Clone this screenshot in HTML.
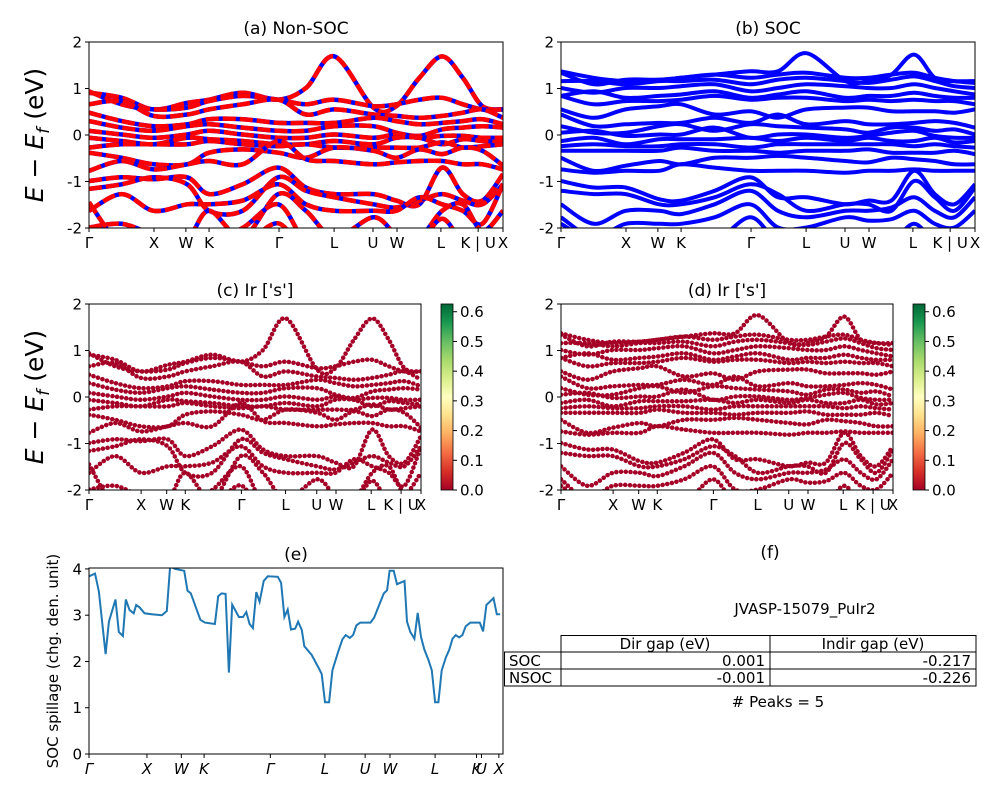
<!DOCTYPE html>
<html><head><meta charset="utf-8"><title>Band structure and SOC spillage</title>
<style>
html,body{margin:0;padding:0;background:#fff;}
svg{display:block;font-family:"DejaVu Sans","Liberation Sans",sans-serif;}
</style></head>
<body>
<svg id="fig" xmlns="http://www.w3.org/2000/svg" width="1000" height="800" viewBox="0 0 1000 800">
<defs>
<linearGradient id="rdylgn" x1="0" y1="1" x2="0" y2="0">
<stop offset="0" stop-color="#a50026"/><stop offset="0.1" stop-color="#d73027"/><stop offset="0.2" stop-color="#f46d43"/><stop offset="0.3" stop-color="#fdae61"/><stop offset="0.4" stop-color="#fee08b"/><stop offset="0.5" stop-color="#ffffbf"/><stop offset="0.6" stop-color="#d9ef8b"/><stop offset="0.7" stop-color="#a6d96a"/><stop offset="0.8" stop-color="#66bd63"/><stop offset="0.9" stop-color="#1a9850"/><stop offset="1" stop-color="#006837"/>
</linearGradient>
</defs>
<g id="root"></g>
<!-- table panel f -->
<g font-size="15" fill="#000">
<text x="770" y="558" text-anchor="middle" font-size="17">(f)</text>
<text x="805" y="614" text-anchor="middle">JVASP-15079_PuIr2</text>
<g fill="none" stroke="#000" stroke-width="1">
<rect x="561" y="635.5" width="415" height="50.5"/>
<rect x="504.5" y="652" width="56.5" height="34"/>
<line x1="770" y1="635.5" x2="770" y2="686"/>
<line x1="504.5" y1="652" x2="976" y2="652"/>
<line x1="504.5" y1="669" x2="976" y2="669"/>
</g>
<text x="665" y="649" text-anchor="middle">Dir gap (eV)</text>
<text x="873" y="649" text-anchor="middle">Indir gap (eV)</text>
<text x="509" y="666">SOC</text>
<text x="509" y="683">NSOC</text>
<text x="765" y="666" text-anchor="end">0.001</text>
<text x="971" y="666" text-anchor="end">-0.217</text>
<text x="765" y="683" text-anchor="end">-0.001</text>
<text x="971" y="683" text-anchor="end">-0.226</text>
<text x="778" y="707" text-anchor="middle"># Peaks = 5</text>
</g>
</svg>
<script>
// ---- data ----
const kFrac = [0,0.079,0.156,0.237,0.29,0.371,0.457,0.524,0.593,0.687,0.742,0.798,0.853,0.903,0.95,1.0];
const kLabels = ["Γ","X","W","K","Γ","L","U","W","L","K | U","X"];
const kLabelFrac = [0,0.157,0.234,0.29,0.459,0.592,0.686,0.744,0.85,0.94,1.0];
const specLabels = ["Γ","X","W","K","Γ","L","U","W","L","K","U","X"];
const specLabelFrac = [0,0.14,0.223,0.278,0.438,0.57,0.667,0.727,0.836,0.936,0.948,0.99];
const nsocBands = [
[.91,.80,.55,.69,.76,.91,.76,1.01,1.69,.59,.62,1.23,1.69,1.23,.62,.55],
[.94,.66,.55,.59,.73,.84,.76,.66,.76,.62,.66,.76,.80,.66,.55,.55],
[.66,.73,.41,.44,.55,.66,.76,.44,.55,.44,.41,.37,.41,.48,.55,.37],
[.48,.30,.19,.23,.34,.34,.26,.26,.26,.37,.30,.23,.26,.30,.34,.23],
[.30,.16,.09,.19,.23,.16,.09,.09,.19,.19,.05,-.02,.12,.16,.19,.16],
[.09,.01,-.06,.01,.09,.01,-.06,-.06,.01,-.06,.01,-.06,-.02,-.02,-.06,-.06],
[-.06,-.13,-.2,-.06,-.09,-.13,-.2,-.2,-.13,-.2,-.06,-.06,-.2,-.09,-.13,-.16],
[-.27,-.2,-.2,-.2,-.13,-.2,-.24,-.2,-.27,-.27,-.27,-.27,-.16,-.27,-.24,-.2],
[-.38,-.49,-.63,-.63,-.38,-.31,-.38,-.49,-.27,-.34,-.49,-.31,-.41,-.27,-.34,-.66],
[-.77,-.56,-.74,-.63,-.56,-.63,-.13,-.52,-.56,-.63,-.59,-.56,-.56,-.63,-.63,-.74],
[-.99,-.91,-.95,-.91,-1.27,-1.06,-.70,-1.13,-1.27,-1.27,-1.41,-1.49,-.70,-1.27,-1.41,-.84],
[-1.16,-1.06,-.91,-1.06,-1.63,-1.63,-.91,-1.2,-1.34,-1.49,-1.56,-1.41,-1.27,-1.41,-1.49,-1.06],
[-1.63,-1.27,-1.63,-1.49,-1.49,-1.41,-1.06,-1.49,-1.63,-1.63,-1.63,-1.34,-1.49,-1.63,-1.91,-1.06],
[-1.99,-1.91,-2.13,-2.2,-1.63,-2.2,-1.27,-1.63,-2.2,-1.77,-2.13,-2.2,-1.63,-1.49,-2.06,-1.63],
[-2.2,-2.3,-2.3,-2.3,-2.3,-2.0,-1.49,-2.3,-2.3,-2.3,-2.3,-2.3,-1.8,-2.3,-2.3,-2.2],
[-1.45,-2.4,-2.6,-2.6,-2.6,-2.4,-1.9,-2.6,-2.6,-2.6,-2.6,-2.6,-2.3,-2.6,-2.6,-2.4]
];
const socBands = [
[1.37,1.23,1.16,1.19,1.23,1.30,1.37,1.37,1.76,1.16,1.16,1.30,1.73,1.23,1.16,1.16],
[1.34,1.09,1.19,1.19,1.23,1.30,1.23,1.30,1.34,1.23,1.23,1.30,1.34,1.23,1.16,1.12],
[1.16,1.16,1.09,1.16,1.16,1.19,1.09,1.19,1.23,1.16,1.12,1.19,1.26,1.16,1.05,1.01],
[1.01,.91,1.01,1.01,1.05,1.09,.94,1.01,1.09,1.05,1.01,1.01,1.09,1.01,.94,.87],
[.84,.94,.80,.84,.87,.94,.80,.87,.94,.80,.84,.84,.91,.84,.80,.80],
[.84,.66,.73,.73,.76,.84,.76,.80,.80,.73,.76,.73,.76,.73,.73,.66],
[.55,.37,.55,.62,.66,.44,.51,.37,.55,.59,.59,.51,.51,.51,.48,.55],
[.44,.19,.23,.26,.26,.37,.26,.44,.23,.30,.23,.23,.26,.30,.26,.16],
[.19,.05,.05,.19,.23,.09,.23,.19,.16,.12,.05,.16,.16,.09,.12,.01],
[.05,.09,-.02,.01,.01,.16,-.06,.01,.01,-.06,-.02,.05,.09,-.02,-.06,-.06],
[-.13,-.06,-.2,-.09,-.09,-.09,-.06,-.13,-.06,-.13,-.06,-.13,-.13,-.06,-.16,-.13],
[-.24,-.2,-.24,-.24,-.2,-.2,-.27,-.2,-.2,-.2,-.2,-.2,-.24,-.2,-.24,-.27],
[-.34,-.34,-.34,-.34,-.27,-.34,-.34,-.38,-.34,-.34,-.31,-.38,-.38,-.38,-.34,-.41],
[-.49,-.77,-.66,-.56,-.63,-.49,-.49,-.45,-.49,-.56,-.59,-.49,-.52,-.56,-.63,-.63],
[-.74,-.81,-.77,-.77,-.63,-.70,-.77,-.77,-.77,-.81,-.77,-.77,-.74,-.77,-.77,-.77],
[-.99,-1.13,-1.13,-1.38,-1.41,-1.2,-.91,-1.34,-1.34,-1.49,-1.41,-1.41,-.77,-1.27,-1.49,-1.06],
[-1.2,-1.27,-1.27,-1.49,-1.49,-1.34,-1.06,-1.27,-1.63,-1.49,-1.49,-1.63,-.99,-1.34,-1.63,-1.13],
[-1.49,-1.91,-1.63,-1.63,-1.70,-1.49,-1.2,-1.63,-1.77,-1.63,-1.63,-1.56,-1.34,-1.63,-1.77,-1.34],
[-1.77,-2.2,-1.91,-1.91,-1.91,-1.77,-1.49,-1.99,-1.99,-1.77,-1.84,-1.81,-1.63,-1.91,-1.99,-1.63],
[-1.91,-2.3,-2.3,-2.3,-2.3,-2.3,-1.77,-2.3,-2.3,-2.3,-2.3,-2.3,-1.91,-2.3,-2.3,-2.3]
];
const energyTicks = [-2,-1,0,1,2];
const cbarTicks = [0.0,0.1,0.2,0.3,0.4,0.5,0.6];
const cbarMax = 0.626;
const spillK = [0,.0145,.024,.040,.048,.064,.072,.082,.089,.098,.108,.114,.122,.134,.151,.176,.188,.196,.208,.230,.238,.246,.269,.280,.304,.312,.320,.330,.338,.346,.362,.372,.380,.388,.396,.404,.412,.422,.432,.456,.464,.472,.480,.488,.498,.505,.514,.520,.538,.554,.562,.570,.580,.588,.602,.612,.620,.630,.638,.646,.655,.680,.689,.699,.712,.720,.726,.736,.744,.762,.768,.776,.786,.794,.802,.810,.820,.828,.836,.844,.852,.862,.870,.878,.886,.894,.902,.910,.921,.944,.952,.960,.977,.985,.993];
const spillVal = [3.84,3.90,3.51,2.16,2.86,3.34,2.64,2.55,3.34,3.11,3.04,3.22,3.17,3.04,3.02,3.00,3.09,4.05,4.0,3.96,3.53,3.47,2.90,2.84,2.81,3.41,3.47,3.46,1.76,3.23,2.96,2.96,3.07,2.81,2.72,3.50,3.29,3.74,3.84,3.83,3.70,2.96,3.12,2.69,2.71,2.86,2.68,2.33,2.14,1.87,1.73,1.12,1.12,1.81,2.21,2.48,2.57,2.51,2.57,2.78,2.84,2.84,2.95,3.18,3.47,3.54,3.96,3.96,3.67,3.74,2.86,2.64,2.49,3.05,2.53,2.26,2.03,1.81,1.12,1.12,1.81,2.09,2.25,2.49,2.57,2.52,2.57,2.76,2.84,2.84,2.65,3.22,3.37,3.02,3.02];
const spillTicks = [0,1,2,3,4];

// ---- helpers ----
const NS = "http://www.w3.org/2000/svg";
const root = document.getElementById("root");
function el(tag, attrs, parent){const e=document.createElementNS(NS,tag);for(const k in attrs)e.setAttribute(k,attrs[k]);(parent||root).appendChild(e);return e;}
function smoothPath(pts){
  let d="M"+pts[0][0].toFixed(1)+","+pts[0][1].toFixed(1);
  for(let i=0;i<pts.length-1;i++){
    const p0=pts[Math.max(0,i-1)],p1=pts[i],p2=pts[i+1],p3=pts[Math.min(pts.length-1,i+2)];
    const c1=[p1[0]+(p2[0]-p0[0])/6,p1[1]+(p2[1]-p0[1])/6];
    const c2=[p2[0]-(p3[0]-p1[0])/6,p2[1]-(p3[1]-p1[1])/6];
    d+=" C"+c1[0].toFixed(1)+","+c1[1].toFixed(1)+" "+c2[0].toFixed(1)+","+c2[1].toFixed(1)+" "+p2[0].toFixed(1)+","+p2[1].toFixed(1);
  }
  return d;
}
let clipId=0;
function makePanel(name,x0,x1,y0,y1,ymin,ymax){
  const g=el("g",{});
  
  
  const id="clip"+(clipId++);
  const cp=el("clipPath",{id:id},g);
  el("rect",{x:x0,y:y0,width:x1-x0,height:y1-y0},cp);
  const plot=el("g",{"clip-path":"url(#"+id+")"},g);
  
  
  return {g,plot,x0,x1,y0,y1,sx:f=>x0+f*(x1-x0),sy:v=>y1-(v-ymin)/(ymax-ymin)*(y1-y0)};
}
function frame(P){
  const r=el("rect",{x:P.x0,y:P.y0,width:P.x1-P.x0,height:P.y1-P.y0,fill:"none",stroke:"#000","stroke-width":1},P.g);
  
  
}
function yTicks(P,ticks,fmt){
  ticks.forEach(t=>{
    const y=P.sy(t);
    const l=el("line",{x1:P.x0-4,x2:P.x0,y1:y,y2:y,stroke:"#000"},P.g);
    
    
    const tx=el("text",{x:P.x0-7,y:y+5.5,"text-anchor":"end","font-size":15},P.g);
    
    
    tx.textContent=fmt?fmt(t):String(t);
  });
}
function xTicks(P,fracs,labels,italic){
  fracs.forEach((f,i)=>{
    const x=P.sx(f);
    const l=el("line",{x1:x,x2:x,y1:P.y1,y2:P.y1+4,stroke:"#000"},P.g);
    
    
    const tx=el("text",{x:x,y:P.y1+20,"text-anchor":"middle","font-size":15},P.g);
    if(italic)tx.setAttribute("font-style","italic");
    
    
    tx.textContent=labels[i];
  });
}
function title(P,txt,name){
  const t=el("text",{x:(P.x0+P.x1)/2,y:P.y0-8,"text-anchor":"middle","font-size":17},P.g);
  
  
  t.textContent=txt;
}
function bandPts(P,b){return b.map((v,i)=>[P.sx(kFrac[i]),P.sy(v)]);}
function colorbar(x,y0,y1,name){
  const g=el("g",{});
  
  
  const r=el("rect",{x:x,y:y0,width:12,height:y1-y0,fill:"url(#rdylgn)",stroke:"#000","stroke-width":0.8},g);
  
  
  cbarTicks.forEach(t=>{
    const y=y1-t/cbarMax*(y1-y0);
    const l=el("line",{x1:x+12,x2:x+16,y1:y,y2:y,stroke:"#000"},g);
    
    
    const tx=el("text",{x:x+19,y:y+5.5,"font-size":15},g);
    
    
    tx.textContent=t.toFixed(1);
  });
}

// ---- panel a ----
const A=makePanel("panel-a-nonsoc",89,503,42,228,-2,2);
nsocBands.forEach(b=>{
  const d=smoothPath(bandPts(A,b));
  const p1=el("path",{d:d,fill:"none",stroke:"#0000ff","stroke-width":4.5},A.plot);
  
  
  const p2=el("path",{d:d,fill:"none",stroke:"#ff0000","stroke-width":4.5,"stroke-dasharray":"13 4"},A.plot);
  
  
});
frame(A);yTicks(A,energyTicks);xTicks(A,kLabelFrac,kLabels);title(A,"(a) Non-SOC","panel-a-title");

// ---- panel b ----
const B=makePanel("panel-b-soc",561,975,42,228,-2,2);
socBands.forEach(b=>{
  const p=el("path",{d:smoothPath(bandPts(B,b)),fill:"none",stroke:"#0000ff","stroke-width":4},B.plot);
  
  
});
frame(B);yTicks(B,energyTicks);xTicks(B,kLabelFrac,kLabels);title(B,"(b) SOC","panel-b-title");

// ---- panel c ----
const C=makePanel("panel-c-ir-s-nonsoc",89,421,304,490,-2,2);
nsocBands.forEach(b=>{
  const p=el("path",{d:smoothPath(bandPts(C,b)),fill:"none",stroke:"#a50026","stroke-width":4.5,"stroke-linecap":"round","stroke-dasharray":"0.1 4.6"},C.plot);
  
  
});
frame(C);yTicks(C,energyTicks);xTicks(C,kLabelFrac,kLabels);title(C,"(c)  Ir ['s']","panel-c-title");
colorbar(441,304,490,"panel-c-colorbar");

// ---- panel d ----
const D=makePanel("panel-d-ir-s-soc",561,893,304,490,-2,2);
socBands.forEach(b=>{
  const p=el("path",{d:smoothPath(bandPts(D,b)),fill:"none",stroke:"#a50026","stroke-width":4.5,"stroke-linecap":"round","stroke-dasharray":"0.1 4.6"},D.plot);
  
  
});
frame(D);yTicks(D,energyTicks);xTicks(D,kLabelFrac,kLabels);title(D,"(d) Ir ['s']","panel-d-title");
colorbar(913,304,490,"panel-d-colorbar");

// ---- panel e ----
const E=makePanel("panel-e-spillage",89,503,568,754,0,4.02);
const sp=el("polyline",{points:spillK.map((k,i)=>E.sx(k).toFixed(1)+","+E.sy(spillVal[i]).toFixed(1)).join(" "),fill:"none",stroke:"#1f77b4","stroke-width":2},E.plot);


frame(E);yTicks(E,spillTicks);xTicks(E,specLabelFrac,specLabels,true);title(E,"(e)","panel-e-title");

// ---- axis titles ----
function ylab(x,y,txt,size,name){
  const t=el("text",{x:x,y:y,"text-anchor":"middle","font-size":size,transform:"rotate(-90 "+x+" "+y+")"});
  
  
  t.innerHTML=txt;
}
ylab(43,135,'<tspan font-style="italic">E</tspan> − <tspan font-style="italic">E</tspan><tspan font-style="italic" font-size="17" dy="6">f</tspan><tspan dy="-6"> (eV)</tspan>',25,"y-axis-title-top");
ylab(43,397,'<tspan font-style="italic">E</tspan> − <tspan font-style="italic">E</tspan><tspan font-style="italic" font-size="17" dy="6">f</tspan><tspan dy="-6"> (eV)</tspan>',25,"y-axis-title-middle");
ylab(58,661,'SOC spillage (chg. den. unit)',15,"y-axis-title-spillage");
</script>
</body></html>
